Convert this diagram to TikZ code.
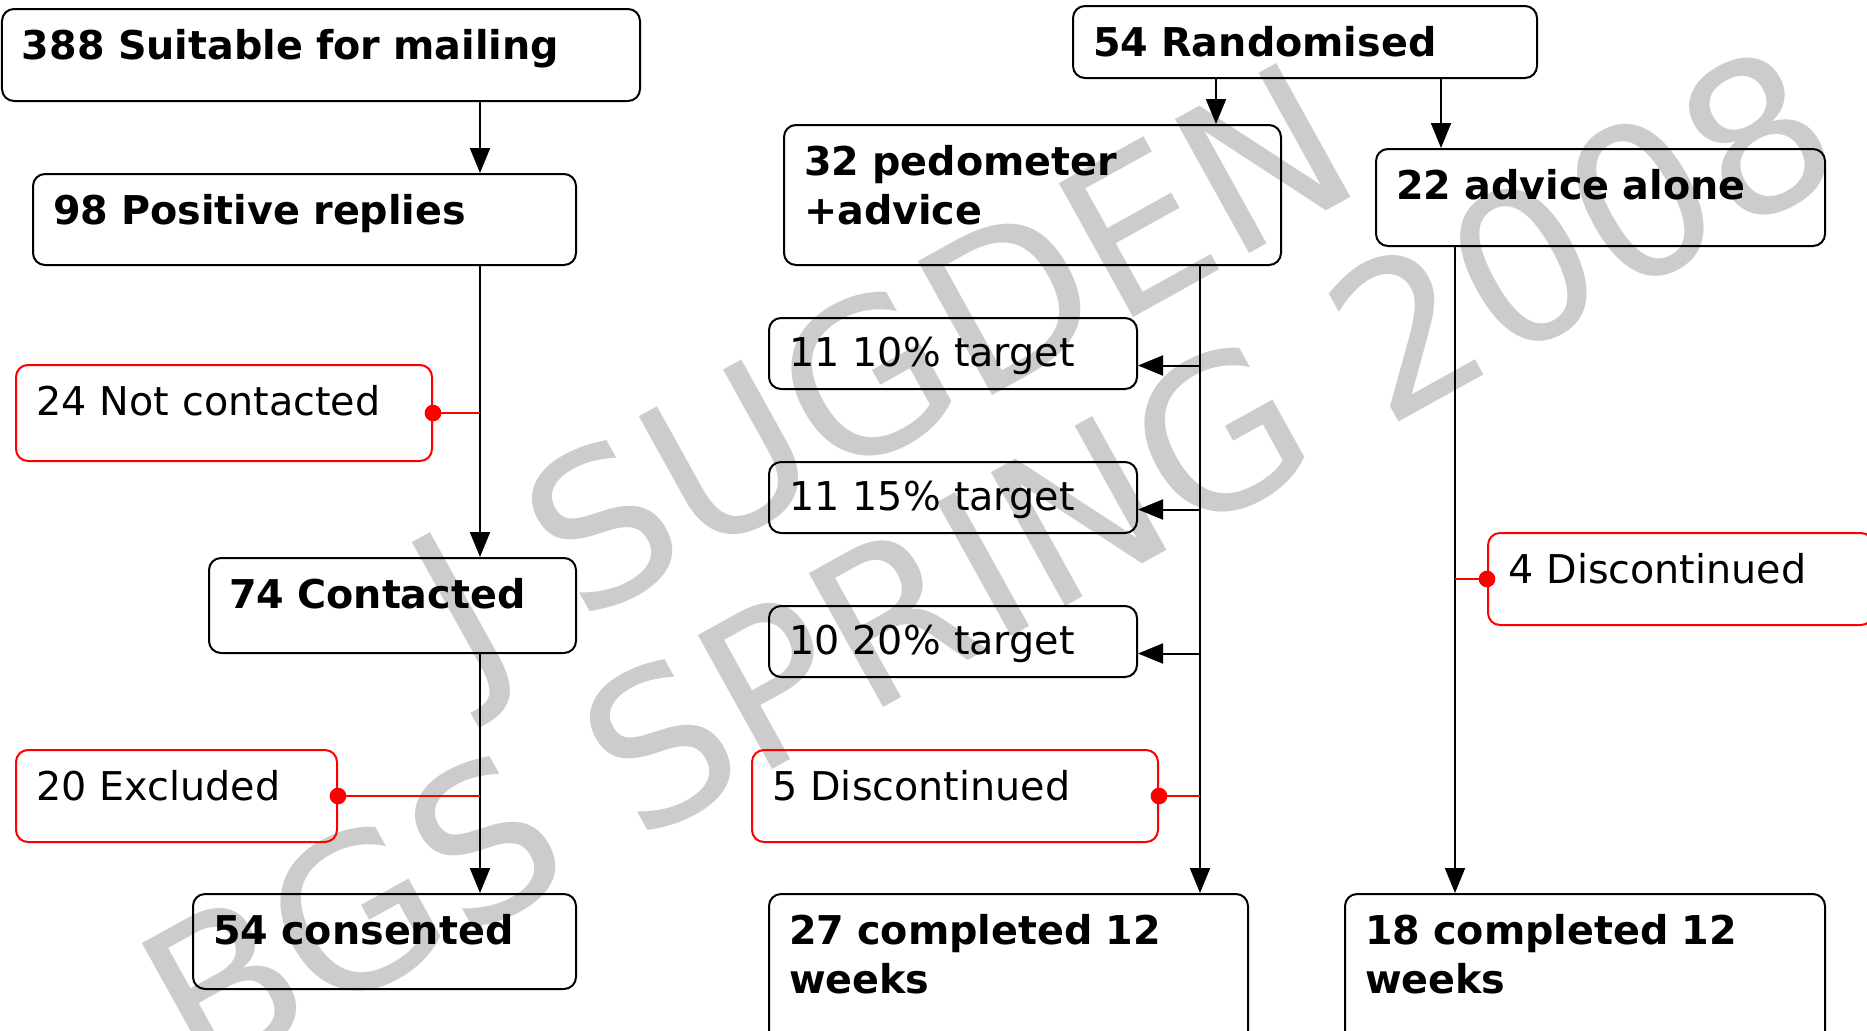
\documentclass[tikz,border=0pt]{standalone}
\usepackage{fontspec}
\setmainfont{DejaVu Sans}
\usetikzlibrary{arrows.meta}

\begin{document}
\begin{tikzpicture}[
    x=0.3pt, y=-0.3pt,
    box/.style={
        draw,
        rounded corners=3.6pt,
        line width=0.6pt,
        anchor=north west,
        align=left,
        inner xsep=6pt,
        inner ysep=0pt,
        text height=15.1pt,
        text depth=12.8pt,
        font=\bfseries\fontsize{11.9}{14.6}\selectfont
    },
    outbox/.style={
        box,
        draw=red,
        font=\fontsize{11.9}{14.6}\selectfont
    },
    aimbox/.style={
        box,
        text height=14.4pt,
        text depth=6.9pt,
        font=\fontsize{11.9}{14.6}\selectfont
    },
    flow/.style={line width=0.6pt},
    outline/.style={red, line width=0.5pt},
    >={Triangle[length=7.5pt,width=6pt]}
]
\useasboundingbox (0,0) rectangle (1867,1030);
\clip (0,0) rectangle (1867,1030);

% watermark
\node[text=black!20, rotate=29, align=center, font=\fontsize{63}{66}\selectfont] (mark) at (935,466) {J SUGDEN\\BGS SPRING 2008};

% recruitment
\node[box, text width=179.4pt, text depth=12.5pt] (mail) at (1,8) {388 Suitable for mailing};
\node[box, text width=150.9pt, text depth=12.2pt] (reply) at (32,173) {98 Positive replies};
\node[outbox, text width=112.8pt, text depth=13.7pt] (notc) at (15,364) {24 Not contacted};
\node[box, text width=98.1pt, text depth=13.4pt] (cont) at (208,557) {74 Contacted};
\node[outbox, text width=84.3pt, text depth=12.5pt] (excl) at (15,749) {20 Excluded};
\node[box, text width=102.9pt, text depth=13.4pt] (cons) at (192,893) {54 consented};

% trial
\node[box, text width=127.2pt, text depth=6.5pt] (rand) at (1072,5) {54 Randomised};
\node[box, text width=137.1pt, text depth=26.9pt] (pedo) at (783,124) {32 pedometer\\+advice};
\node[box, text width=122.7pt, text depth=14pt] (alone) at (1375,148) {22 advice alone};

\node[aimbox, text width=98.4pt] (aim1) at (768,317) {11 10\% target};
\node[aimbox, text width=98.4pt] (aim2) at (768,461) {11 15\% target};
\node[aimbox, text width=98.4pt] (aim3) at (768,605) {10 20\% target};

\node[outbox, text width=109.8pt, text depth=12.5pt] (disc1) at (751,749) {5 Discontinued};
\node[outbox, text width=103.5pt, text depth=12.5pt] (disc2) at (1487,532) {4 Discontinued};

\node[box, text width=131.7pt, text depth=29.9pt] (done1) at (768,893) {27 completed 12\\weeks};
\node[box, text width=132pt, text depth=29.9pt] (done2) at (1344,893) {18 completed 12\\weeks};

% vertical lines
\coordinate (left) at (480,0);
\coordinate (split1) at (1216,0);
\coordinate (split2) at (1441,0);
\coordinate (pedoline) at (1200,0);
\coordinate (aloneline) at (1455,0);

\draw[flow,->] (mail.south -| left) -- (reply.north -| left);
\draw[flow,->] (reply.south -| left) -- (cont.north -| left);
\draw[flow,->] (cont.south -| left) -- (cons.north -| left);

\draw[flow,->] (rand.south -| split1) -- (pedo.north -| split1);
\draw[flow,->] (rand.south -| split2) -- (alone.north -| split2);
\draw[flow,->] (pedo.south -| pedoline) -- (done1.north -| pedoline);
\draw[flow,->] (alone.south -| aloneline) -- (done2.north -| aloneline);

\foreach \n in {aim1,aim2,aim3}
    \draw[flow,->] ([yshift=-3.6pt]\n.east -| pedoline) -- ([yshift=-3.6pt]\n.east);

% drop outs
\foreach \n/\c in {notc/left,excl/left,disc1/pedoline} {
    \draw[outline] (\n.east -| \c) -- (\n.east);
    \fill[red] (\n.east) circle (2.5pt);
}
\draw[outline] (disc2.west -| aloneline) -- (disc2.west);
\fill[red] (disc2.west) circle (2.5pt);
\end{tikzpicture}
\end{document}
